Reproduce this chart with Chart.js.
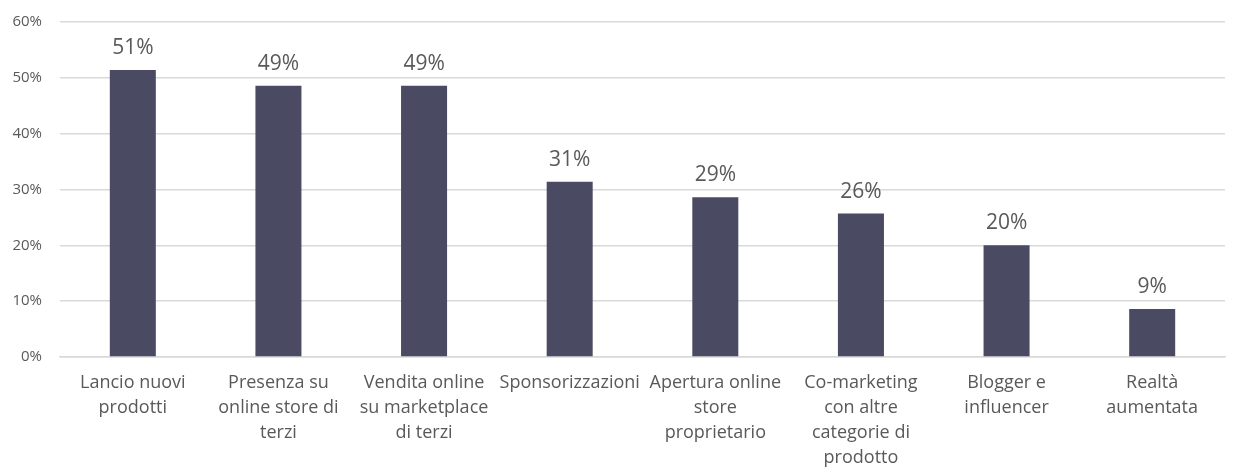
<!DOCTYPE html>
<html>
<head>
<meta charset="utf-8">
<script src="https://cdn.jsdelivr.net/npm/chart.js@4"></script>
<style>
  html, body { margin: 0; padding: 0; background: #fff; }
  .chart-wrapper { width: 1237px; height: 470px; }
</style>
</head>
<body>
<div class="chart-wrapper"><canvas id="bar-chart"></canvas></div>
<script>
// Data
const categories = [
  ["Lancio nuovi", "prodotti"],
  ["Presenza su", "online store di", "terzi"],
  ["Vendita online", "su marketplace", "di terzi"],
  ["Sponsorizzazioni"],
  ["Apertura online", "store", "proprietario"],
  ["Co-marketing", "con altre", "categorie di", "prodotto"],
  ["Blogger e", "influencer"],
  ["Realtà", "aumentata"]
];
const values = [51.4, 48.6, 48.6, 31.4, 28.6, 25.7, 20.0, 8.6];
const yTicks = [0, 10, 20, 30, 40, 50, 60];

const textGrey = '#595959';
const fontFamily = "'Open Sans', sans-serif";

// value labels above the bars
const barLabels = {
  id: 'barLabels',
  afterDatasetsDraw(chart) {
    const ctx = chart.ctx;
    const meta = chart.getDatasetMeta(0);
    ctx.save();
    ctx.font = '21px ' + fontFamily;
    ctx.fillStyle = textGrey;
    ctx.textAlign = 'center';
    ctx.textBaseline = 'alphabetic';
    meta.data.forEach((bar, i) => {
      ctx.fillText(Math.round(values[i]) + '%', bar.x, bar.y - 16);
    });
    ctx.restore();
  }
};

const barCanvas = document.getElementById('bar-chart');

let barChart = new Chart(barCanvas, {
  type: 'bar',
  data: {
    labels: categories,
    datasets: [{
      data: values,
      backgroundColor: '#4a4b63',
      categoryPercentage: 1,
      barPercentage: 0.316
    }]
  },
  options: {
    responsive: true,
    maintainAspectRatio: false,
    animation: { duration: 0 },
    layout: { padding: { left: 8, right: 12, top: 22, bottom: 0 } },
    scales: {
      y: {
        min: 0,
        max: 60,
        afterBuildTicks: (axis) => { axis.ticks = yTicks.map(v => ({ value: v })); },
        afterFit: (axis) => {
          axis.width = 52;
          axis.paddingTop = 0;
          axis.paddingBottom = 0;
        },
        ticks: {
          callback: (v) => v + '%',
          color: textGrey,
          font: { family: fontFamily, size: 15 },
          padding: 18
        },
        grid: { color: '#d9d9d9', lineWidth: 1.5, drawTicks: false },
        border: { display: false }
      },
      x: {
        afterFit: (axis) => {
          axis.height = 113;
          axis.paddingLeft = 0;
          axis.paddingRight = 0;
        },
        ticks: {
          color: textGrey,
          font: { family: fontFamily, size: 18, lineHeight: 1.39 },
          padding: 13,
          maxRotation: 0,
          autoSkip: false
        },
        grid: { display: false, drawTicks: false },
        border: { color: '#d9d9d9', width: 1.5 }
      }
    },
    plugins: {
      legend: { display: false },
      tooltip: { enabled: false }
    }
  },
  plugins: [barLabels]
});
</script>
</body>
</html>
